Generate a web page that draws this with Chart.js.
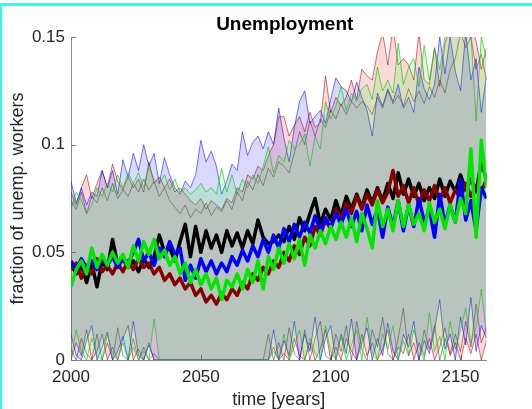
<!DOCTYPE html>
<html><head><meta charset="utf-8">
<script src="https://cdn.jsdelivr.net/npm/chart.js@4.4.0/dist/chart.umd.min.js"></script>
<style>
html,body{margin:0;padding:0;background:#fff;}
#wrap{position:relative;width:532px;height:409px;overflow:hidden;background:#fff;}
canvas{position:absolute;left:0;top:0;}
.cy{position:absolute;background:#3cf6f6;}
</style></head><body>
<div id="wrap">
<canvas id="c" width="532" height="409"></canvas>
<div class="cy" style="left:0;top:3px;width:532px;height:3px"></div>
<div class="cy" style="left:0;top:3px;width:2px;height:406px"></div>
</div>
<script>
const years = [
2000,2002,2004,2006,2008,2010,2012,2014,2016,2018,
2020,2022,2024,2026,2028,2030,2032,2034,2036,2038,
2040,2042,2044,2046,2048,2050,2052,2054,2056,2058,
2060,2062,2064,2066,2068,2070,2072,2074,2076,2078,
2080,2082,2084,2086,2088,2090,2092,2094,2096,2098,
2100,2102,2104,2106,2108,2110,2112,2114,2116,2118,
2120,2122,2124,2126,2128,2130,2132,2134,2136,2138,
2140,2142,2144,2146,2148,2150,2152,2154,2156,2158,
2160];

const blackMean = [
.045,.040,.044,.036,.045,.034,.046,.042,.056,.044,
.047,.043,.046,.041,.047,.043,.048,.058,.050,.052,
.046,.055,.063,.048,.062,.050,.060,.052,.058,.050,
.060,.053,.059,.052,.060,.054,.065,.057,.054,.055,
.058,.055,.062,.056,.066,.060,.068,.075,.063,.070,
.065,.074,.067,.076,.070,.077,.071,.079,.073,.080,
.074,.082,.075,.087,.077,.084,.076,.082,.074,.080,
.075,.084,.076,.083,.078,.086,.079,.084,.078,.092,
.084];
const redMean = [
.042,.045,.038,.044,.040,.047,.041,.044,.040,.045,
.041,.046,.042,.047,.043,.045,.040,.043,.037,.040,
.035,.038,.033,.036,.030,.033,.027,.030,.026,.031,
.028,.033,.030,.036,.033,.040,.037,.043,.040,.046,
.043,.050,.046,.053,.049,.057,.053,.062,.058,.065,
.061,.070,.065,.073,.068,.076,.070,.077,.072,.079,
.073,.078,.088,.076,.081,.073,.080,.072,.079,.074,
.081,.074,.080,.073,.079,.075,.082,.076,.081,.078,
.084];
const blueMean = [
.046,.042,.047,.043,.046,.042,.047,.044,.048,.043,
.047,.045,.050,.056,.046,.050,.044,.052,.048,.055,
.049,.052,.037,.044,.038,.047,.041,.046,.040,.045,
.041,.048,.044,.051,.046,.053,.048,.056,.050,.058,
.052,.061,.055,.063,.057,.064,.059,.067,.060,.066,
.061,.068,.063,.070,.062,.069,.060,.072,.063,.070,
.057,.071,.062,.074,.060,.072,.062,.075,.064,.070,
.057,.077,.063,.072,.064,.084,.065,.074,.060,.080,
.075];
const greenMean = [
.034,.042,.046,.040,.052,.043,.049,.044,.050,.045,
.049,.043,.053,.046,.055,.049,.056,.047,.051,.044,
.048,.040,.045,.036,.042,.035,.040,.033,.038,.028,
.037,.034,.040,.033,.042,.036,.046,.033,.048,.042,
.052,.045,.054,.047,.056,.044,.058,.052,.060,.054,
.062,.056,.064,.057,.066,.055,.068,.061,.052,.074,
.062,.070,.060,.074,.062,.072,.063,.068,.060,.073,
.064,.070,.061,.072,.064,.075,.068,.098,.057,.102,
.080];

const blackUpper = [
.074,.070,.078,.068,.076,.073,.080,.074,.082,.075,
.079,.076,.082,.078,.084,.079,.083,.076,.080,.074,
.071,.068,.072,.066,.070,.068,.073,.067,.071,.069,
.074,.070,.078,.074,.083,.079,.086,.081,.089,.085,
.092,.090,.087,.096,.106,.100,.111,.104,.112,.108,
.116,.112,.119,.114,.120,.117,.120,.118,.114,.122,
.117,.125,.119,.123,.118,.126,.120,.125,.119,.127,
.122,.130,.124,.135,.140,.152,.145,.150,.135,.142,
.130];
const redUpper = [
.078,.072,.080,.086,.075,.082,.088,.080,.091,.083,
.079,.085,.080,.084,.078,.092,.082,.085,.080,.084,
.078,.080,.077,.074,.072,.075,.070,.074,.072,.070,
.075,.073,.080,.078,.086,.084,.090,.088,.095,.100,
.113,.113,.104,.109,.113,.106,.115,.108,.110,.132,
.115,.122,.118,.122,.130,.121,.135,.132,.130,.143,
.152,.137,.155,.137,.140,.137,.130,.152,.130,.128,
.145,.127,.147,.155,.152,.158,.150,.155,.148,.135,
.145];
const blueUpper = [
.083,.073,.080,.072,.078,.076,.088,.080,.088,.077,
.093,.085,.096,.088,.100,.090,.096,.082,.094,.086,
.080,.077,.083,.080,.086,.102,.092,.097,.090,.077,
.083,.091,.088,.106,.095,.101,.104,.098,.106,.100,
.117,.103,.092,.108,.120,.125,.110,.113,.116,.110,
.121,.131,.127,.125,.120,.129,.122,.116,.104,.124,
.118,.126,.120,.128,.117,.122,.115,.136,.126,.121,
.128,.150,.133,.150,.134,.125,.152,.130,.140,.115,
.132];
const greenUpper = [
.070,.078,.074,.068,.072,.080,.076,.082,.078,.086,
.080,.087,.082,.087,.080,.090,.084,.082,.086,.079,
.084,.078,.080,.077,.079,.082,.078,.080,.077,.089,
.078,.086,.077,.084,.080,.086,.082,.090,.099,.087,
.095,.092,.102,.098,.100,.105,.090,.104,.098,.120,
.112,.118,.127,.116,.124,.120,.126,.128,.121,.136,
.125,.130,.124,.147,.128,.136,.140,.127,.146,.130,
.145,.135,.150,.155,.152,.158,.150,.152,.111,.150,
.140];

const blackLower = [
.005,0,.010,.003,0,.012,0,.008,0,.015,
.002,0,.010,0,.006,0,.003,0,0,0,
0,0,0,0,0,0,0,0,0,0,
0,0,0,0,0,0,0,0,.012,0,
.008,0,.015,.003,0,.014,0,.010,.018,.002,
0,.012,.004,.016,0,.018,.005,0,.014,.006,
.020,.003,0,.010,.024,.002,.008,0,.014,.005,
.016,0,.010,.003,.012,.004,.018,.006,.026,.008,
.015];
const redLower = [
0,.008,.002,.014,0,.004,.012,0,.006,0,
.010,.016,0,.005,0,.008,0,0,0,0,
0,0,0,0,0,0,0,0,0,0,
0,0,0,0,0,0,0,0,0,.006,
0,.003,0,.010,.002,0,.008,0,.005,.014,
0,.006,0,.010,.004,0,.012,.002,.008,0,
.005,.014,0,.006,.003,.012,0,.008,.002,.010,
0,.006,.015,.002,.008,0,.010,.003,.012,0,
.009];
const blueLower = [
.012,.002,0,.009,.016,0,.006,.013,0,.004,
.011,0,.018,.002,0,.007,0,0,0,0,
0,0,0,0,0,0,0,0,0,0,
0,0,0,0,0,0,0,0,0,.014,
0,.009,.002,.018,0,.012,.004,.020,0,.010,
.016,0,.012,.003,.019,0,.008,.015,0,.010,
.002,.017,.004,0,.012,.006,.018,0,.009,.003,
.014,.028,.005,.012,0,.020,.007,.029,.004,.016,
.010];
const greenLower = [
0,.014,.004,0,.010,.002,0,.012,.003,0,
.008,0,.006,0,.004,0,.019,0,0,0,
0,0,0,0,0,0,0,0,0,0,
0,0,0,0,0,0,0,0,0,.004,
0,.012,0,.006,.014,0,.010,.003,0,.016,
.004,0,.011,0,.007,.014,0,.020,.003,0,
.012,.005,.016,0,.009,.002,.014,.006,0,.022,
.004,.011,0,.018,.005,.014,.024,.008,.015,.033,
.012];

const xTickValues = [2000, 2050, 2100, 2150];
const xTickLabels = ['2000', '2050', '2100', '2150'];
const yTickValues = [0, 0.05, 0.1, 0.15];
const yTickLabels = ['0', '0.05', '0.1', '0.15'];

const FONT = "'Liberation Sans', Arial, Helvetica, sans-serif";
const toPts = arr => arr.map((v, i) => ({x: years[i], y: v}));

function meanDs(label, data, color) {
  return {label, data: toPts(data), borderColor: color, borderWidth: 3.5,
          pointRadius: 0, fill: false, tension: 0, borderJoinStyle: 'round'};
}
function bandPair(label, up, lo, lineColor, fillColor) {
  return [
    {label: label + ' upper', data: toPts(up), borderColor: lineColor, borderWidth: 1,
     pointRadius: 0, tension: 0, fill: '+1', backgroundColor: fillColor},
    {label: label + ' lower', data: toPts(lo), borderColor: lineColor, borderWidth: 1,
     pointRadius: 0, tension: 0, fill: false}
  ];
}

const datasets = [
  meanDs('green', greenMean, '#00e600'),
  meanDs('blue', blueMean, '#0000ff'),
  meanDs('darkred', redMean, '#860000'),
  meanDs('black', blackMean, '#000000'),
  ...bandPair('green', greenUpper, greenLower, 'rgba(0,190,0,0.6)', 'rgba(0,255,0,0.15)'),
  ...bandPair('blue', blueUpper, blueLower, 'rgba(0,0,255,0.55)', 'rgba(0,0,255,0.15)'),
  ...bandPair('darkred', redUpper, redLower, 'rgba(160,0,0,0.55)', 'rgba(255,0,0,0.15)'),
  ...bandPair('black', blackUpper, blackLower, 'rgba(60,40,40,0.5)', 'rgba(0,0,0,0.0)')
];

const innerTicks = {
  id: 'innerTicks',
  afterLayout(chart) {
    // nudge the title box so its centre sits where the reference title is
    if (chart.titleBlock) { chart.titleBlock.left += 6; chart.titleBlock.right += 6; }
  },
  beforeDatasetsDraw(chart) {
    const {ctx, chartArea, scales} = chart;
    ctx.save();
    ctx.strokeStyle = '#7a7a7a';
    ctx.lineWidth = 1;
    scales.y.ticks.forEach(t => {
      const y = Math.round(scales.y.getPixelForValue(t.value)) + 0.5;
      ctx.beginPath(); ctx.moveTo(chartArea.left, y); ctx.lineTo(chartArea.left + 5, y); ctx.stroke();
    });
    scales.x.ticks.forEach(t => {
      const x = Math.round(scales.x.getPixelForValue(t.value)) + 0.5;
      ctx.beginPath(); ctx.moveTo(x, chartArea.bottom); ctx.lineTo(x, chartArea.bottom - 5); ctx.stroke();
    });
    ctx.restore();
  }
};

new Chart(document.getElementById('c'), {
  type: 'line',
  data: {datasets},
  plugins: [innerTicks],
  options: {
    responsive: false,
    animation: false,
    devicePixelRatio: 1,
    layout: {padding: {left: 0, right: 45.5, top: 0, bottom: 0}},
    plugins: {
      legend: {display: false},
      tooltip: {enabled: false},
      title: {display: true, text: 'Unemployment', fullSize: false, color: '#000',
              font: {family: FONT, size: 19, weight: 'bold'}, padding: {top: 13, bottom: 1.2}}
    },
    scales: {
      x: {
        type: 'linear', min: 2000, max: 2160,
        afterBuildTicks: s => { s.ticks = xTickValues.map(v => ({value: v})); },
        afterFit: s => { s.height = 49; },
        grid: {display: false, drawTicks: false, tickLength: 0},
        border: {display: true, color: '#8a8a8a', width: 1},
        ticks: {callback: (v, i) => xTickLabels[i], color: '#262626', padding: 7,
                maxRotation: 0, autoSkip: false, font: {family: FONT, size: 17}},
        title: {display: true, text: 'time [years]', color: '#262626',
                font: {family: FONT, size: 18, lineHeight: 1}, padding: {top: 0, bottom: 0}}
      },
      y: {
        type: 'linear', min: 0, max: 0.15,
        afterBuildTicks: s => { s.ticks = yTickValues.map(v => ({value: v})); },
        afterFit: s => { s.width = 71; },
        grid: {display: false, drawTicks: false, tickLength: 0},
        border: {display: true, color: '#8a8a8a', width: 1},
        ticks: {callback: (v, i) => yTickLabels[i], color: '#262626', padding: 6,
                autoSkip: false, font: {family: FONT, size: 17}},
        title: {display: true, text: 'fraction of unemp. workers', color: '#262626',
                font: {family: FONT, size: 18, lineHeight: 1}, padding: {top: 9, bottom: 0}}
      }
    }
  }
});
</script>
</body></html>
